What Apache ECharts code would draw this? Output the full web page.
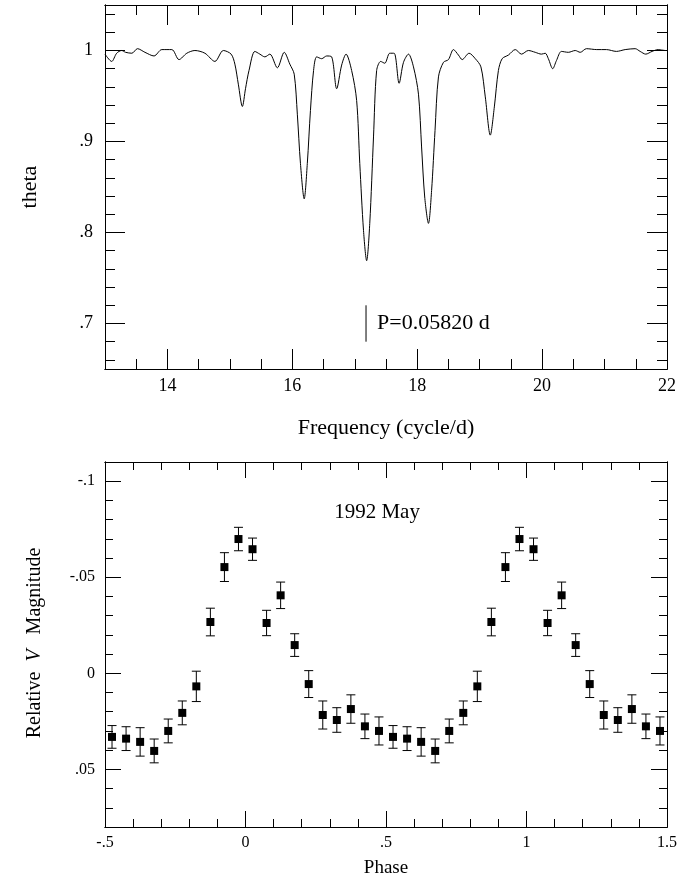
<!DOCTYPE html>
<html>
<head>
<meta charset="utf-8">
<script src="https://cdn.jsdelivr.net/npm/echarts@6/dist/echarts.min.js"></script>
<style>
html,body{margin:0;padding:0;background:#fff;}
#chart{width:697px;height:886px;}
</style>
</head>
<body>
<div id="chart"></div>
<script>
// ---- Top panel: theta periodogram ----
const freq = [13.00,13.107,13.187,13.267,13.33,13.43,13.52,13.64,13.785,13.91,14.07,14.185,14.31,14.44,14.60,14.76,14.895,15.02,15.08,15.135,15.20,15.25,15.306,15.40,15.48,15.56,15.64,15.76,15.87,15.96,16.03,16.08,16.13,16.19,16.24,16.29,16.34,16.39,16.47,16.55,16.63,16.71,16.79,16.86,16.95,17.03,17.08,17.14,17.19,17.24,17.30,17.35,17.415,17.48,17.56,17.63,17.71,17.78,17.86,17.94,18.02,18.07,18.12,18.18,18.23,18.285,18.34,18.42,18.50,18.58,18.66,18.72,18.83,18.93,19.02,19.09,19.17,19.235,19.30,19.36,19.46,19.57,19.67,19.78,19.89,19.99,20.05,20.10,20.17,20.23,20.31,20.42,20.53,20.61,20.71,20.875,21.03,21.19,21.33,21.49,21.57,21.66,21.76,21.86,21.97,22.00];
const theta = [0.996,0.988,0.997,1.000,0.998,0.997,1.002,0.998,0.994,1.001,1.001,0.990,0.997,1.000,0.997,0.988,1.000,0.996,0.985,0.963,0.9385,0.958,0.978,0.999,0.996,0.993,0.996,0.981,0.998,0.985,0.974,0.930,0.876,0.837,0.876,0.934,0.978,0.993,0.991,0.994,0.993,0.958,0.984,0.996,0.978,0.945,0.876,0.802,0.769,0.810,0.905,0.978,0.988,0.986,0.997,0.997,0.964,0.987,0.996,0.982,0.952,0.894,0.839,0.810,0.846,0.912,0.971,0.987,0.990,1.001,0.995,0.990,0.997,0.991,0.982,0.949,0.907,0.938,0.978,0.991,0.995,1.001,0.996,1.000,0.998,0.996,0.997,0.991,0.980,0.989,0.999,0.998,1.000,0.998,1.002,1.001,1.001,0.999,1.001,1.002,0.999,0.996,0.999,1.001,1.000,1.000];
const periodFreq = 17.18;
const periodBar = [0.68, 0.72];
const periodText = 'P=0.05820 d';

// ---- Bottom panel: folded light curve ----
const phase = [-0.475,-0.425,-0.375,-0.325,-0.275,-0.225,-0.175,-0.125,-0.075,-0.025,0.025,0.075,0.125,0.175,0.225,0.275,0.325,0.375,0.425,0.475,
               0.525,0.575,0.625,0.675,0.725,0.775,0.825,0.875,0.925,0.975,1.025,1.075,1.125,1.175,1.225,1.275,1.325,1.375,1.425,1.475];
const mag = [0.0331,0.0340,0.0357,0.0404,0.0300,0.0206,0.0068,-0.0267,-0.0553,-0.0699,-0.0646,-0.0262,-0.0406,-0.0147,0.0056,0.0217,0.0243,0.0186,0.0276,0.0300,
             0.0331,0.0340,0.0357,0.0404,0.0300,0.0206,0.0068,-0.0267,-0.0553,-0.0699,-0.0646,-0.0262,-0.0406,-0.0147,0.0056,0.0217,0.0243,0.0186,0.0276,0.0300];
const magErr = [0.0059,0.0062,0.0074,0.0062,0.0062,0.0062,0.0079,0.0072,0.0075,0.0061,0.0058,0.0066,0.0069,0.0059,0.0070,0.0073,0.0064,0.0074,0.0064,0.0073,
                0.0059,0.0062,0.0074,0.0062,0.0062,0.0062,0.0079,0.0072,0.0075,0.0061,0.0058,0.0066,0.0069,0.0059,0.0070,0.0073,0.0064,0.0074,0.0064,0.0073];
const epochText = '1992 May';
const epochPos = [0.468, -0.0838];

// ---- Tick labels ----
const topXTicks = [14,16,18,20,22];
const topXLabels = ['14','16','18','20','22'];
const topYTicks = [0.7,0.8,0.9,1.0];
const topYLabels = ['.7','.8','.9','1'];
const botXTicks = [-0.5,0,0.5,1,1.5];
const botXLabels = ['-.5','0','.5','1','1.5'];
const botYTicks = [-0.1,-0.05,0,0.05];
const botYLabels = ['-.1','-.05','0','.05'];

const FONT = 'Liberation Serif';

function steps(a, b, s) {
  const out = [];
  const n = Math.round((b - a) / s);
  for (let i = 0; i <= n; i++) out.push(Math.round((a + i * s) * 1e6) / 1e6);
  return out;
}
function fmt(ticks, labels) {
  return function (v) {
    const i = ticks.findIndex(t => Math.abs(t - v) < 1e-7);
    return i >= 0 ? labels[i] : '';
  };
}

const xAxes = [], yAxes = [];
function addAxes(list, o) {
  const base = {
    gridIndex: o.grid, type: 'value', min: o.min, max: o.max, inverse: !!o.inverse,
    axisLine: {show: true, onZero: false, lineStyle: {color: '#000', width: 1}},
    splitLine: {show: false}
  };
  const sides = o.isX ? ['bottom', 'top'] : ['left', 'right'];
  sides.forEach((pos, k) => {
    list.push(Object.assign({}, base, {
      position: pos,
      axisTick: {show: true, inside: true, length: o.minorLen, customValues: o.minors, lineStyle: {color: '#000', width: 1}},
      axisLabel: {show: false}
    }));
    list.push(Object.assign({}, base, {
      position: pos,
      axisTick: {show: true, inside: true, length: o.majorLen, customValues: o.majors, lineStyle: {color: '#000', width: 1}},
      axisLabel: k === 0 ? {
        show: true, customValues: o.labelTicks, formatter: fmt(o.labelTicks, o.labels),
        fontFamily: FONT, fontSize: o.fontSize, color: '#000', margin: o.margin,
        showMinLabel: true, showMaxLabel: true
      } : {show: false}
    }));
  });
}
// top panel axes: indices 0..3
addAxes(xAxes, {grid: 0, isX: true, min: 13, max: 22, minors: steps(13, 22, 0.5), majors: [14,16,18,20],
  labelTicks: topXTicks, labels: topXLabels, minorLen: 10, majorLen: 20, fontSize: 18, margin: 8});
addAxes(yAxes, {grid: 0, isX: false, min: 0.65, max: 1.05, minors: steps(0.66, 1.04, 0.02), majors: topYTicks,
  labelTicks: topYTicks, labels: topYLabels, minorLen: 10, majorLen: 20, fontSize: 18, margin: 12});
// bottom panel axes: indices 4..7
addAxes(xAxes, {grid: 1, isX: true, min: -0.5, max: 1.5, minors: steps(-0.5, 1.5, 0.1), majors: [0, 0.5, 1],
  labelTicks: botXTicks, labels: botXLabels, minorLen: 8, majorLen: 16, fontSize: 16, margin: 8});
addAxes(yAxes, {grid: 1, isX: false, min: -0.11, max: 0.08, inverse: true, minors: steps(-0.11, 0.08, 0.01), majors: botYTicks,
  labelTicks: botYTicks, labels: botYLabels, minorLen: 8, majorLen: 16, fontSize: 16, margin: 10});

const curve = freq.map((f, i) => [f, theta[i]]);
const pts = phase.map((p, i) => [p, mag[i], magErr[i]]);

const option = {
  animation: false,
  backgroundColor: '#fff',
  grid: [
    {left: 105, top: 5, width: 562, height: 364},
    {left: 105, top: 462, width: 562, height: 365}
  ],
  xAxis: xAxes,
  yAxis: yAxes,
  series: [
    {
      type: 'line', xAxisIndex: 1, yAxisIndex: 1, data: curve,
      showSymbol: false, smooth: 0.3, lineStyle: {color: '#000', width: 1}, silent: true
    },
    {
      type: 'line', xAxisIndex: 1, yAxisIndex: 1,
      data: [[periodFreq, periodBar[0]], [periodFreq, periodBar[1]]],
      showSymbol: false, lineStyle: {color: '#000', width: 1}, silent: true
    },
    {
      type: 'scatter', xAxisIndex: 1, yAxisIndex: 1,
      data: [[periodFreq, (periodBar[0] + periodBar[1]) / 2]],
      symbolSize: 0, silent: true, itemStyle: {opacity: 1},
      label: {show: true, position: 'right', distance: 11, formatter: periodText,
        fontFamily: FONT, fontSize: 22, color: '#000', opacity: 1}
    },
    {
      type: 'custom', xAxisIndex: 5, yAxisIndex: 5, data: pts, silent: true,
      renderItem: function (params, api) {
        const x = api.value(0), y = api.value(1), e = api.value(2);
        const a = api.coord([x, y - e]);
        const b = api.coord([x, y + e]);
        const h = 4.5;
        const st = {stroke: '#000', lineWidth: 1};
        return {type: 'group', children: [
          {type: 'line', shape: {x1: a[0], y1: a[1], x2: b[0], y2: b[1]}, style: st},
          {type: 'line', shape: {x1: a[0] - h, y1: a[1], x2: a[0] + h, y2: a[1]}, style: st},
          {type: 'line', shape: {x1: b[0] - h, y1: b[1], x2: b[0] + h, y2: b[1]}, style: st}
        ]};
      }
    },
    {
      type: 'scatter', xAxisIndex: 5, yAxisIndex: 5, data: pts.map(p => [p[0], p[1]]),
      symbol: 'rect', symbolSize: 8, itemStyle: {color: '#000', opacity: 1}, silent: true, z: 5
    },
    {
      type: 'scatter', xAxisIndex: 5, yAxisIndex: 5, data: [epochPos],
      symbolSize: 0, silent: true, itemStyle: {opacity: 1},
      label: {show: true, position: 'inside', formatter: epochText,
        fontFamily: FONT, fontSize: 21, color: '#000', opacity: 1}
    }
  ],
  graphic: [
    {type: 'text', x: 386, y: 428, style: {text: 'Frequency (cycle/d)', font: '22px "Liberation Serif"', fill: '#000', align: 'center', verticalAlign: 'middle'}},
    {type: 'text', x: 30, y: 187, rotation: Math.PI / 2, style: {text: 'theta', font: '22px "Liberation Serif"', fill: '#000', align: 'center', verticalAlign: 'middle'}},
    {type: 'text', x: 386, y: 868, style: {text: 'Phase', font: '19px "Liberation Serif"', fill: '#000', align: 'center', verticalAlign: 'middle'}},
    {type: 'text', x: 35, y: 643, rotation: Math.PI / 2, style: {
      text: 'Relative  {i|V}   Magnitude', fontFamily: FONT, fontSize: 20, fill: '#000', align: 'center', verticalAlign: 'middle',
      rich: {i: {fontFamily: FONT, fontSize: 20, fontStyle: 'italic', fill: '#000'}}
    }}
  ]
};

const chart = echarts.init(document.getElementById('chart'), null, {renderer: 'canvas'});
chart.setOption(option);
</script>
</body>
</html>
